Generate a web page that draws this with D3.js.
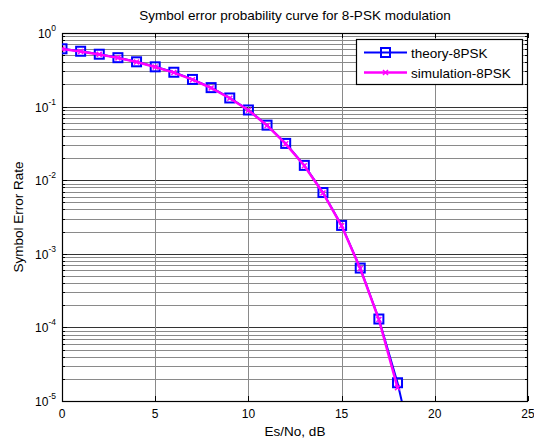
<!DOCTYPE html>
<html><head><meta charset="utf-8">
<script src="https://cdn.jsdelivr.net/npm/d3@7"></script>
<style>body{margin:0;background:#fff}svg{display:block}text{font-family:"Liberation Sans",Arial,sans-serif}</style>
</head><body>
<script>
const esnoTheory = [0,1,2,3,4,5,6,7,8,9,10,11,12,13,14,15,16,17,18,19,20];
const serTheory = [0.61,0.565,0.515,0.462,0.406,0.347,0.293,0.234,0.181,0.131,0.09,0.056,0.0316,0.0159,0.0068,0.00243,0.00064,0.00013,0.0000177,0.0000014,0.00000008];
const esnoSim = [0,1,2,3,4,5,6,7,8,9,10,11,12,13,14,15,16,17,18];
const serSim = [0.605,0.56,0.512,0.459,0.404,0.345,0.29,0.232,0.179,0.13,0.089,0.0555,0.0312,0.0157,0.0067,0.0024,0.00063,0.000128,0.0000152];
const xTicks = [0,5,10,15,20,25];
const yExps = [0,-1,-2,-3,-4,-5];
const seriesNames = ["theory-8PSK","simulation-8PSK"];
const titleText = "Symbol error probability curve for 8-PSK modulation";
const xLabel = "Es/No, dB";
const yLabel = "Symbol Error Rate";

const W=534,H=443, m={l:62,t:33,r:6,b:42};
const pw=W-m.l-m.r, ph=H-m.t-m.b;
const svg=d3.select("body").append("svg").attr("width",W).attr("height",H);
const x=d3.scaleLinear().domain([0,25]).range([m.l,m.l+pw]);
const y=d3.scaleLog().domain([1e-5,1]).range([m.t+ph,m.t]);

svg.append("defs").append("clipPath").attr("id","clip").append("rect")
  .attr("x",m.l).attr("y",m.t).attr("width",pw).attr("height",ph);

// grid
const g=svg.append("g");
const minor=[];
for(let e=-5;e<0;e++) for(let k=2;k<=9;k++) minor.push(k*Math.pow(10,e));
g.selectAll(".mn").data(minor).enter().append("line")
  .attr("x1",m.l).attr("x2",m.l+pw)
  .attr("y1",d=>Math.round(y(d))+0.5).attr("y2",d=>Math.round(y(d))+0.5)
  .attr("stroke","#8a8a8a").attr("stroke-width",1);
g.selectAll(".mj").data(yExps.slice(1,5)).enter().append("line")
  .attr("x1",m.l).attr("x2",m.l+pw)
  .attr("y1",d=>Math.round(y(Math.pow(10,d)))+0.5).attr("y2",d=>Math.round(y(Math.pow(10,d)))+0.5)
  .attr("stroke","#333").attr("stroke-width",1);
g.selectAll(".vx").data(xTicks.slice(1,5)).enter().append("line")
  .attr("y1",m.t).attr("y2",m.t+ph)
  .attr("x1",d=>Math.round(x(d))+0.5).attr("x2",d=>Math.round(x(d))+0.5)
  .attr("stroke","#8a8a8a").attr("stroke-width",1);

// ticks (inward, all sides)
const tk=svg.append("g").attr("stroke","#000").attr("stroke-width",1);
xTicks.forEach(v=>{const px=Math.round(x(v))+0.5;
  tk.append("line").attr("x1",px).attr("x2",px).attr("y1",m.t+ph).attr("y2",m.t+ph-5);
  tk.append("line").attr("x1",px).attr("x2",px).attr("y1",m.t).attr("y2",m.t+5);});
minor.forEach(v=>{const py=Math.round(y(v))+0.5;
  tk.append("line").attr("y1",py).attr("y2",py).attr("x1",m.l).attr("x2",m.l+3);
  tk.append("line").attr("y1",py).attr("y2",py).attr("x1",m.l+pw).attr("x2",m.l+pw-3);});
yExps.forEach(e=>{const py=Math.round(y(Math.pow(10,e)))+0.5;
  tk.append("line").attr("y1",py).attr("y2",py).attr("x1",m.l).attr("x2",m.l+5);
  tk.append("line").attr("y1",py).attr("y2",py).attr("x1",m.l+pw).attr("x2",m.l+pw-5);});

// box
svg.append("rect").attr("x",m.l+0.5).attr("y",m.t+0.5).attr("width",pw-1).attr("height",ph)
  .attr("fill","none").attr("stroke","#000").attr("stroke-width",1.2);

// tick labels
svg.selectAll(".xl").data(xTicks).enter().append("text")
  .attr("x",d=>x(d)).attr("y",m.t+ph+17).attr("text-anchor","middle")
  .attr("font-size",12).text(d=>d);
yExps.forEach(e=>{
  const t=svg.append("text").attr("x",m.l-6).attr("y",y(Math.pow(10,e))+5)
    .attr("text-anchor","end").attr("font-size",12);
  t.append("tspan").text("10");
  t.append("tspan").attr("dy",-7).attr("font-size",8.5).text(e===0?"0":"-"+(-e));
});

// labels
svg.append("text").attr("x",m.l+pw/2).attr("y",20).attr("text-anchor","middle")
  .attr("font-size",13.5).text(titleText);
svg.append("text").attr("x",m.l+pw/2).attr("y",436).attr("text-anchor","middle")
  .attr("font-size",13.5).text(xLabel);
svg.append("text").attr("transform",`translate(23,${m.t+ph/2}) rotate(-90)`)
  .attr("text-anchor","middle").attr("font-size",13.5).text(yLabel);

// data
const plot=svg.append("g").attr("clip-path","url(#clip)");
const line=d3.line().x(d=>x(d[0])).y(d=>y(d[1]));
const th=esnoTheory.map((v,i)=>[v,serTheory[i]]);
const sm=esnoSim.map((v,i)=>[v,serSim[i]]);
plot.append("path").datum(th).attr("d",line).attr("fill","none").attr("stroke","#0000ff").attr("stroke-width",2);
plot.selectAll(".sq").data(th).enter().append("rect")
  .attr("x",d=>x(d[0])-4.5).attr("y",d=>y(d[1])-4.5).attr("width",9).attr("height",9)
  .attr("fill","none").attr("stroke","#0000ff").attr("stroke-width",2);
plot.append("path").datum(sm).attr("d",line).attr("fill","none").attr("stroke","#ff00ff").attr("stroke-width",2.5);
plot.selectAll(".sx").data(sm).enter().append("path")
  .attr("d",d=>{const px=x(d[0]),py=y(d[1]);return `M${px-2.5},${py-2.5}L${px+2.5},${py+2.5}M${px-2.5},${py+2.5}L${px+2.5},${py-2.5}`;})
  .attr("stroke","#ff00ff").attr("stroke-width",1.5);

// legend
const lg=svg.append("g");
lg.append("rect").attr("x",356.5).attr("y",39.5).attr("width",166).attr("height",45)
  .attr("fill","#fff").attr("stroke","#000").attr("stroke-width",1.2);
const ly=[52.5,72.5];
lg.append("line").attr("x1",364).attr("x2",407).attr("y1",ly[0]).attr("y2",ly[0]).attr("stroke","#0000ff").attr("stroke-width",2);
lg.append("rect").attr("x",381).attr("y",ly[0]-4.5).attr("width",9).attr("height",9).attr("fill","none").attr("stroke","#0000ff").attr("stroke-width",2);
lg.append("line").attr("x1",364).attr("x2",407).attr("y1",ly[1]).attr("y2",ly[1]).attr("stroke","#ff00ff").attr("stroke-width",2.5);
lg.append("path").attr("d",`M383,${ly[1]-2.5}L388,${ly[1]+2.5}M383,${ly[1]+2.5}L388,${ly[1]-2.5}`).attr("stroke","#ff00ff").attr("stroke-width",1.5);
seriesNames.forEach((s,i)=>lg.append("text").attr("x",411).attr("y",ly[i]+5).attr("font-size",13.5).text(s));
</script>
</body></html>
